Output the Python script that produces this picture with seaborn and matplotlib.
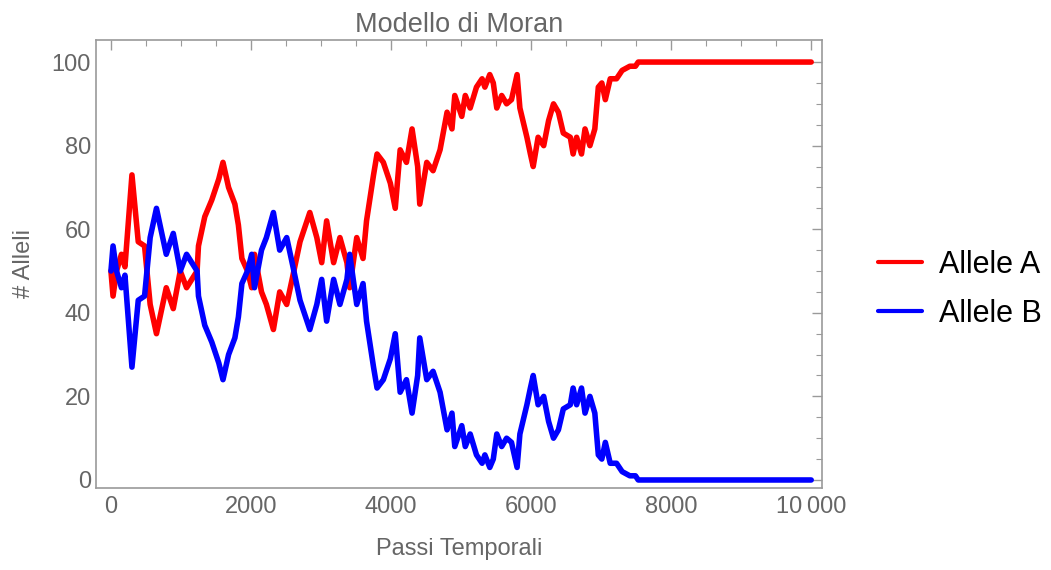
import matplotlib
matplotlib.use('Agg')
import matplotlib.pyplot as plt
import pandas as pd
import seaborn as sns

# values (time step -> number of alleles)
steps = [0, 30, 80, 150, 200, 300, 390, 480, 560, 650, 790, 890, 990, 1080, 1230, 1250,
         1340, 1440, 1540, 1600, 1680, 1770, 1820, 1870, 1950, 2010, 2050, 2150, 2220, 2320,
         2410, 2510, 2600, 2700, 2840, 2940, 3010, 3080, 3180, 3270, 3370, 3410, 3510, 3600,
         3650, 3750, 3800, 3890, 3990, 4060, 4130, 4220, 4300, 4380, 4410, 4510, 4600, 4700,
         4800, 4870, 4910, 5010, 5060, 5130, 5220, 5300, 5340, 5410, 5460, 5510, 5580, 5650,
         5720, 5800, 5840, 5940, 5990, 6030, 6100, 6180, 6250, 6320, 6390, 6460, 6560, 6600,
         6650, 6720, 6770, 6840, 6910, 6960, 7010, 7060, 7130, 7220, 7300, 7410, 7490, 7530,
         10000]
allele_a = [50, 44, 50, 54, 51, 73, 57, 56, 42, 35, 46, 41, 50, 46, 50, 56,
            63, 67, 72, 76, 70, 66, 61, 53, 50, 46, 54, 45, 42, 36,
            45, 42, 49, 57, 64, 58, 52, 62, 52, 58, 52, 46, 58, 53,
            62, 73, 78, 76, 71, 65, 79, 76, 84, 75, 66, 76, 74, 79,
            88, 84, 92, 87, 92, 89, 94, 96, 94, 97, 95, 89, 92, 90,
            91, 97, 89, 82, 78, 75, 82, 80, 86, 90, 88, 83, 82, 78,
            82, 78, 84, 80, 84, 94, 95, 91, 96, 96, 98, 99, 99, 100,
            100]
allele_b = [50, 56, 50, 46, 49, 27, 43, 44, 58, 65, 54, 59, 50, 54, 50, 44,
            37, 33, 28, 24, 30, 34, 39, 47, 50, 54, 46, 55, 58, 64,
            55, 58, 51, 43, 36, 42, 48, 38, 48, 42, 48, 54, 42, 47,
            38, 27, 22, 24, 29, 35, 21, 24, 16, 25, 34, 24, 26, 21,
            12, 16, 8, 13, 8, 11, 6, 4, 6, 3, 5, 11, 8, 10,
            9, 3, 11, 18, 22, 25, 18, 20, 14, 10, 12, 17, 18, 22,
            18, 22, 16, 20, 16, 6, 5, 9, 4, 4, 2, 1, 1, 0,
            0]
series_names = ["Allele A", "Allele B"]
x_ticks = [0, 2000, 4000, 6000, 8000, 10000]
x_tick_labels = ["0", "2000", "4000", "6000", "8000", "10\u2009000"]
y_ticks = [0, 20, 40, 60, 80, 100]

df = pd.DataFrame({
    "step": steps * 2,
    "count": allele_a + allele_b,
    "allele": [series_names[0]] * len(steps) + [series_names[1]] * len(steps),
})

sns.set_style("white")
plt.rcParams['font.family'] = ['Liberation Sans', 'DejaVu Sans']
gray = "#666666"
frame = "#9a9a9a"

fig = plt.figure(figsize=(10.51, 5.70), dpi=100)
ax = fig.add_axes([0.0913, 0.144, 0.691, 0.786])

sns.lineplot(data=df, x="step", y="count", hue="allele",
             palette={"Allele A": "#ff0000", "Allele B": "#0000ff"},
             linewidth=4, ax=ax, legend=False)

ax.set_xlim(-214, 10157)
ax.set_ylim(-1.9, 105.3)
ax.set_xticks(x_ticks)
ax.set_xticklabels(x_tick_labels)
ax.set_yticks(y_ticks)
ax.set_xticks(range(0, 10001, 500), minor=True)
ax.set_yticks(range(0, 101, 5), minor=True)
ax.tick_params(which="both", direction="in", top=True, right=True, colors=frame,
               labelcolor=gray, labelsize=17)
ax.tick_params(which="major", length=7, width=1)
ax.tick_params(which="minor", length=4, width=0.8)
ax.tick_params(axis="x", which="major", pad=6)
for s in ax.spines.values():
    s.set_color(frame)
    s.set_linewidth(1.2)

ax.set_title("Modello di Moran", color=gray, fontsize=19.5, pad=6)
ax.set_xlabel("Passi Temporali", color=gray, fontsize=17, labelpad=14)
ax.set_ylabel("# Alleli", color=gray, fontsize=17, labelpad=12)

handles = [plt.Line2D([], [], color="#ff0000", lw=3),
           plt.Line2D([], [], color="#0000ff", lw=3)]
fig.legend(handles, series_names, loc="center left", bbox_to_anchor=(0.8354, 0.492),
           frameon=False, fontsize=22, handlelength=1.45, handletextpad=0.55,
           labelspacing=0.62, borderpad=0, borderaxespad=0, labelcolor="black")

fig.savefig("out.png", dpi=100)
